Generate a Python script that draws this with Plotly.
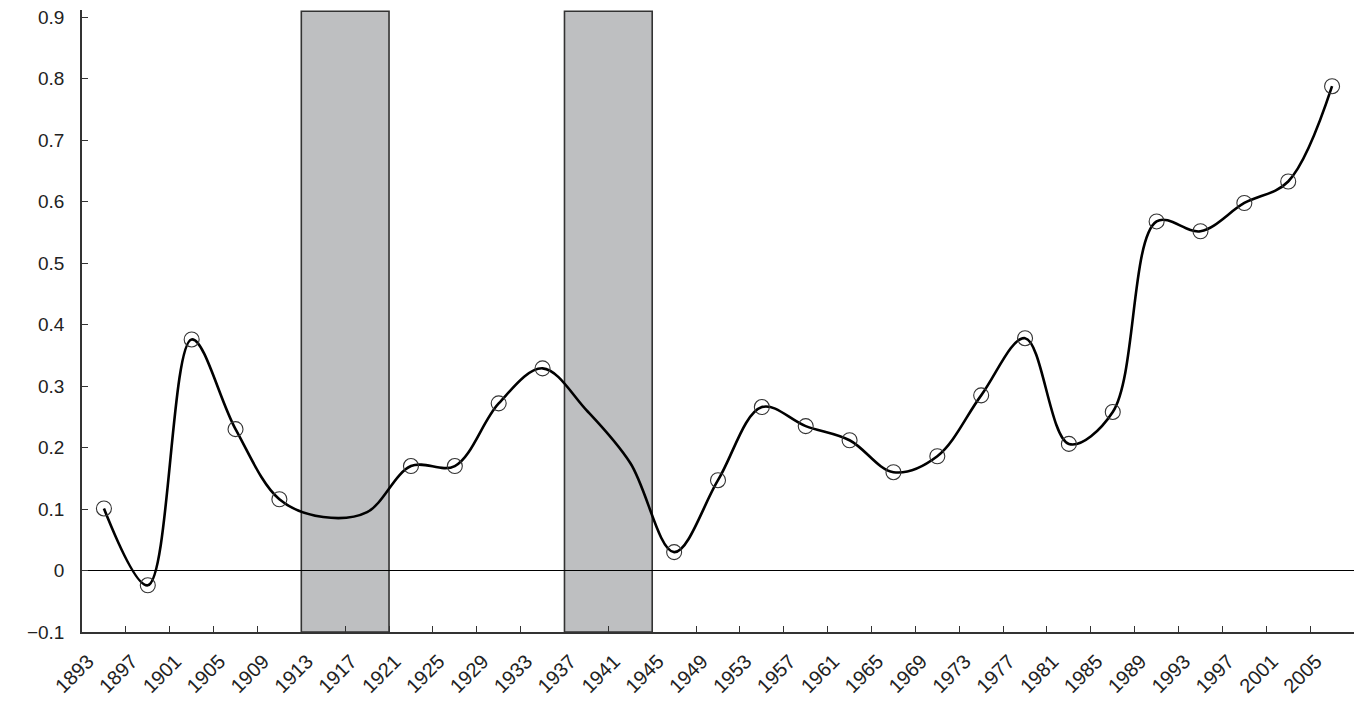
import plotly.graph_objects as go

years = ["1893", "1897", "1901", "1905", "1909", "1913", "1917", "1921", "1925", "1929",
         "1933", "1937", "1941", "1945", "1949", "1953", "1957", "1961", "1965", "1969",
         "1973", "1977", "1981", "1985", "1989", "1993", "1997", "2001", "2005"]
values = [0.101, -0.024, 0.376, 0.230, 0.116, 0.087, 0.095, 0.170, 0.170, 0.272,
          0.329, 0.261, 0.175, 0.030, 0.147, 0.266, 0.235, 0.212, 0.160, 0.186,
          0.285, 0.378, 0.206, 0.258, 0.568, 0.552, 0.598, 0.633, 0.788]
# shaded periods (first and last category covered)
shaded_periods = [("1913", "1917"), ("1937", "1941")]
y_ticks = [-0.1, 0, 0.1, 0.2, 0.3, 0.4, 0.5, 0.6, 0.7, 0.8, 0.9]
y_tick_text = ["\u22120.1", "0", "0.1", "0.2", "0.3", "0.4", "0.5", "0.6", "0.7", "0.8", "0.9"]

hidden = set()
for a, b in shaded_periods:
    for i in range(years.index(a), years.index(b) + 1):
        hidden.add(years[i])
marker_vals = [None if y in hidden else v for y, v in zip(years, values)]

fig = go.Figure()
fig.add_trace(go.Scatter(
    x=years, y=values, mode="lines",
    line=dict(color="black", width=2.6, shape="spline", smoothing=1.0),
    hoverinfo="skip", showlegend=False,
))
fig.add_trace(go.Scatter(
    x=years, y=marker_vals, mode="markers",
    marker=dict(symbol="circle-open", size=15, color="#333333", line=dict(width=1.1)),
    showlegend=False,
))

for a, b in shaded_periods:
    fig.add_shape(type="rect", xref="x", yref="y",
                  x0=years.index(a) - 0.5, x1=years.index(b) + 0.5,
                  y0=-0.1, y1=0.91,
                  fillcolor="#BEBFC1", line=dict(color="#333333", width=1.6),
                  layer="below")

fig.update_layout(
    width=1363, height=705,
    margin=dict(l=82, r=9, t=10, b=73),
    paper_bgcolor="white", plot_bgcolor="white",
    font=dict(family="Liberation Sans, Arial, sans-serif", color="#222222"),
    showlegend=False,
)
fig.update_xaxes(
    type="category", categoryorder="array", categoryarray=years,
    range=[-0.5, len(years) - 0.5], automargin=False,
    tickson="boundaries", ticks="inside", ticklen=6, tickcolor="#333333", tickwidth=1,
    tickangle=-45, tickfont=dict(size=20), ticklabelstandoff=8, ticklabelshift=-16,
    showline=True, linecolor="#333333", linewidth=1.5,
    showgrid=False, zeroline=False,
)
fig.update_yaxes(
    range=[-0.1, 0.912], automargin=False,
    tickvals=y_ticks, ticktext=y_tick_text,
    ticks="inside", ticklen=6, tickcolor="#333333", tickwidth=1,
    tickfont=dict(size=19), ticklabelstandoff=12,
    showline=True, linecolor="#333333", linewidth=1.5,
    showgrid=False, zeroline=True, zerolinecolor="black", zerolinewidth=1.2,
)

fig.write_html("out.html", config={"displayModeBar": False},
               post_script="document.body.style.margin='0';document.body.style.overflow='hidden';")
